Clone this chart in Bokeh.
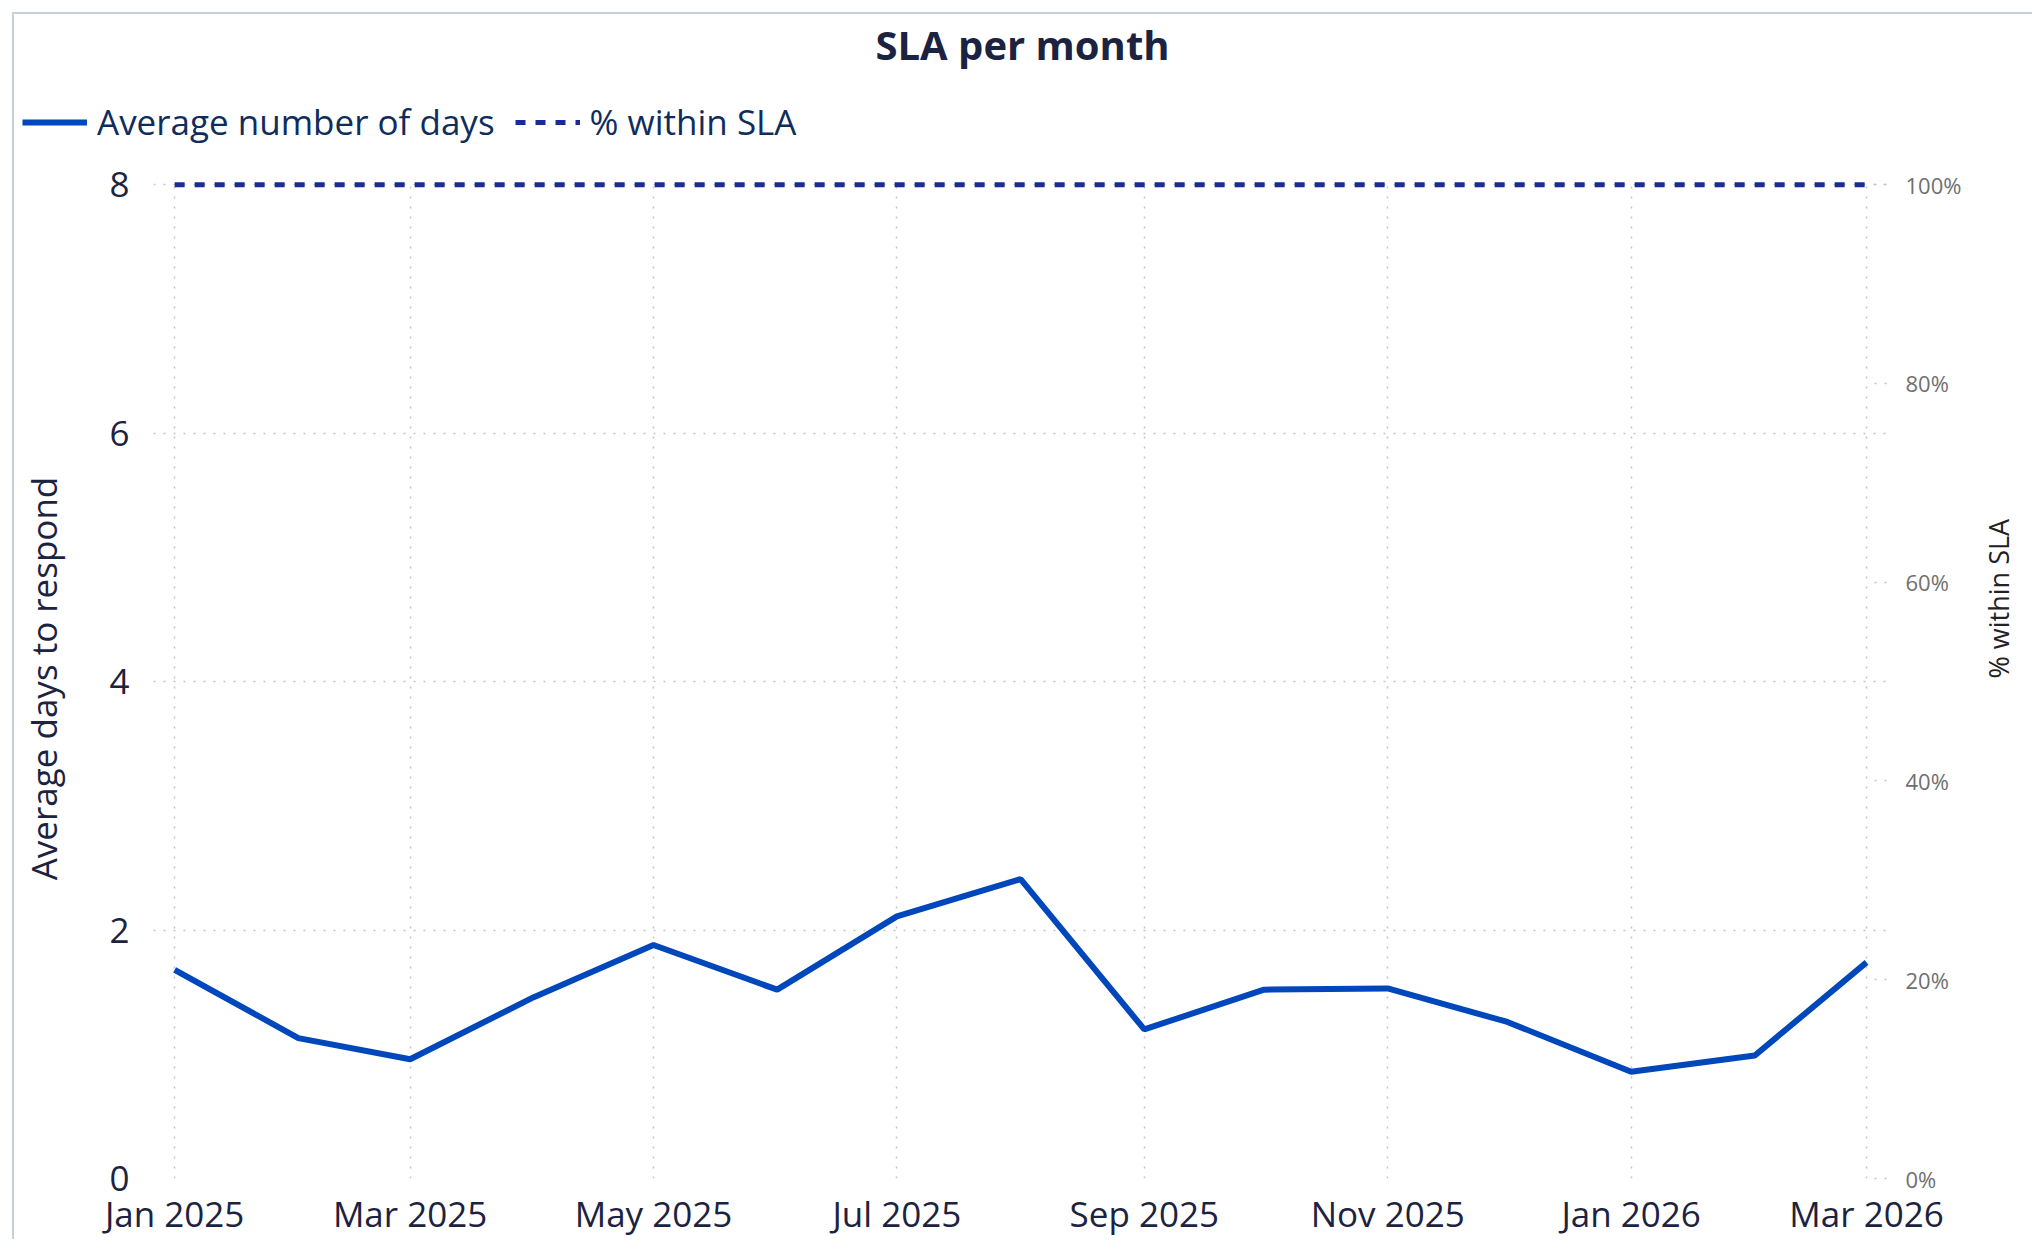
import math
import pandas as pd
from bokeh.plotting import figure
from bokeh.layouts import column, row
from bokeh.models import (Range1d, LinearAxis, SingleIntervalTicker, MonthsTicker,
                          DatetimeTickFormatter, PrintfTickFormatter, Legend, LegendItem,
                          ColumnDataSource)
from bokeh.embed import file_html
from bokeh.resources import INLINE

# ---- data ----
months = ["2025-01-01", "2025-02-01", "2025-03-01", "2025-04-01", "2025-05-01",
          "2025-06-01", "2025-07-01", "2025-08-01", "2025-09-01", "2025-10-01",
          "2025-11-01", "2025-12-01", "2026-01-01", "2026-02-01", "2026-03-01"]
avg_days = [1.68, 1.13, 0.96, 1.46, 1.88, 1.52, 2.11, 2.41, 1.20, 1.52,
            1.53, 1.26, 0.86, 0.99, 1.74]
pct_within_sla = [100, 100, 100, 100, 100, 100, 100, 100, 100, 100,
                  100, 100, 100, 100, 100]
tick_months = [0, 2, 4, 6, 8, 10]          # Jan, Mar, May, Jul, Sep, Nov
left_tick_step = 2
right_tick_step = 20
series_names = ["Average number of days", "% within SLA"]

FONT = "Open Sans"
NAVY = "#1c2340"
BLUE = "#0047BB"
DARKBLUE = "#1B2A9B"
W = 2016

dates = pd.to_datetime(months)
src = ColumnDataSource(dict(date=dates, avg=avg_days, pct=pct_within_sla))

x_start = dates[0] - pd.Timedelta(days=5.3)
x_end = dates[-1] + pd.Timedelta(days=5.0)

# ---------- header: title + legend ----------
header = figure(width=W, height=134, x_range=Range1d(0, 1), y_range=Range1d(0, 1),
                min_border=0, x_axis_location=None, y_axis_location=None,
                output_backend="svg", toolbar_location=None, title="SLA per month")
header.grid.visible = False
header.outline_line_color = None
header.title.align = "center"
header.title.offset = 25
header.title.standoff = 0
header.title.text_font = FONT
header.title.text_font_size = "40px"
header.title.text_font_style = "bold"
header.title.text_color = NAVY

# legend proxies: same series, outside the header's (dummy) ranges
h1 = header.line("date", "avg", source=src, line_color=BLUE, line_width=6)
h2 = header.line("date", "pct", source=src, line_color=DARKBLUE, line_width=5,
                 line_dash="10 10")
legend = Legend(items=[LegendItem(label=series_names[0], renderers=[h1]),
                       LegendItem(label=series_names[1], renderers=[h2])],
                location=(8, 3), orientation="horizontal",
                padding=0, margin=0, spacing=20, glyph_width=65, glyph_height=30,
                label_standoff=10, border_line_color=None, background_fill_alpha=0,
                label_text_font=FONT, label_text_font_size="35px",
                label_text_color="#0f2d5c")
header.add_layout(legend, "center")

# ---------- main chart ----------
p = figure(x_axis_type="datetime", x_range=Range1d(x_start, x_end), y_range=Range1d(0, 8.05),
           frame_width=1733, frame_height=1000,
           min_border_left=139, min_border_right=144, min_border_top=30, min_border_bottom=60,
           output_backend="svg", toolbar_location=None)
p.outline_line_color = None
p.background_fill_color = "white"
p.border_fill_color = "white"

# x axis
xa = p.xaxis[0]
xa.ticker = MonthsTicker(months=tick_months)
xa.formatter = DatetimeTickFormatter(days="%b %Y", months="%b %Y", years="%b %Y")
xa.axis_line_color = None
xa.major_tick_line_color = None
xa.minor_tick_line_color = None
xa.major_label_text_font = FONT
xa.major_label_text_font_size = "35px"
xa.major_label_text_color = NAVY
xa.major_label_standoff = 5

# left axis
ya = p.yaxis[0]
ya.ticker = SingleIntervalTicker(interval=left_tick_step, num_minor_ticks=0)
ya.axis_line_color = None
ya.major_tick_line_color = None
ya.minor_tick_line_color = None
ya.major_label_text_font = FONT
ya.major_label_text_font_size = "35px"
ya.major_label_text_color = NAVY
ya.major_label_standoff = 18
ya.axis_label = "Average days to respond"
ya.axis_label_text_font = FONT
ya.axis_label_text_font_size = "35px"
ya.axis_label_text_font_style = "normal"
ya.axis_label_text_color = NAVY
ya.axis_label_standoff = 39

# right axis
p.extra_y_ranges = {"pct": Range1d(0, 8.05 / 8 * 100)}
ra = LinearAxis(y_range_name="pct",
                ticker=SingleIntervalTicker(interval=right_tick_step, num_minor_ticks=0),
                formatter=PrintfTickFormatter(format="%d%%"))
ra.axis_line_color = None
ra.major_tick_in = 20
ra.major_tick_out = 0
ra.major_tick_line_color = "#c4c4c4"
ra.major_tick_line_dash = "2 8"
ra.major_tick_line_width = 1.5
ra.minor_tick_line_color = None
ra.major_label_text_font = FONT
ra.major_label_text_font_size = "22px"
ra.major_label_text_color = "#707070"
ra.major_label_standoff = 19
ra.axis_label = "% within SLA"
ra.axis_label_text_font = FONT
ra.axis_label_text_font_size = "27px"
ra.axis_label_text_font_style = "normal"
ra.axis_label_text_color = "#222222"
ra.axis_label_standoff = 34
ra.axis_label_orientation = math.pi / 2
p.add_layout(ra, "right")

# grids
for g in (p.xgrid[0], p.ygrid[0]):
    g.grid_line_color = "#c4c4c4"
    g.grid_line_dash = "2 8"
    g.grid_line_width = 1.5
p.ygrid[0].ticker = ya.ticker
p.xgrid[0].ticker = xa.ticker

# lines
r1 = p.line("date", "avg", source=src, line_color=BLUE, line_width=6)
r2 = p.line("date", "pct", source=src, y_range_name="pct", line_color=DARKBLUE,
            line_width=5, line_dash="10 10")

layout = column(row(header), row(p), spacing=0)
layout.margin = (12, 0, 0, 12)
layout.styles = {"border-left": "2px solid #c5d0d8", "border-top": "2px solid #c5d0d8"}

open("out.html", "w").write(file_html(layout, INLINE))
